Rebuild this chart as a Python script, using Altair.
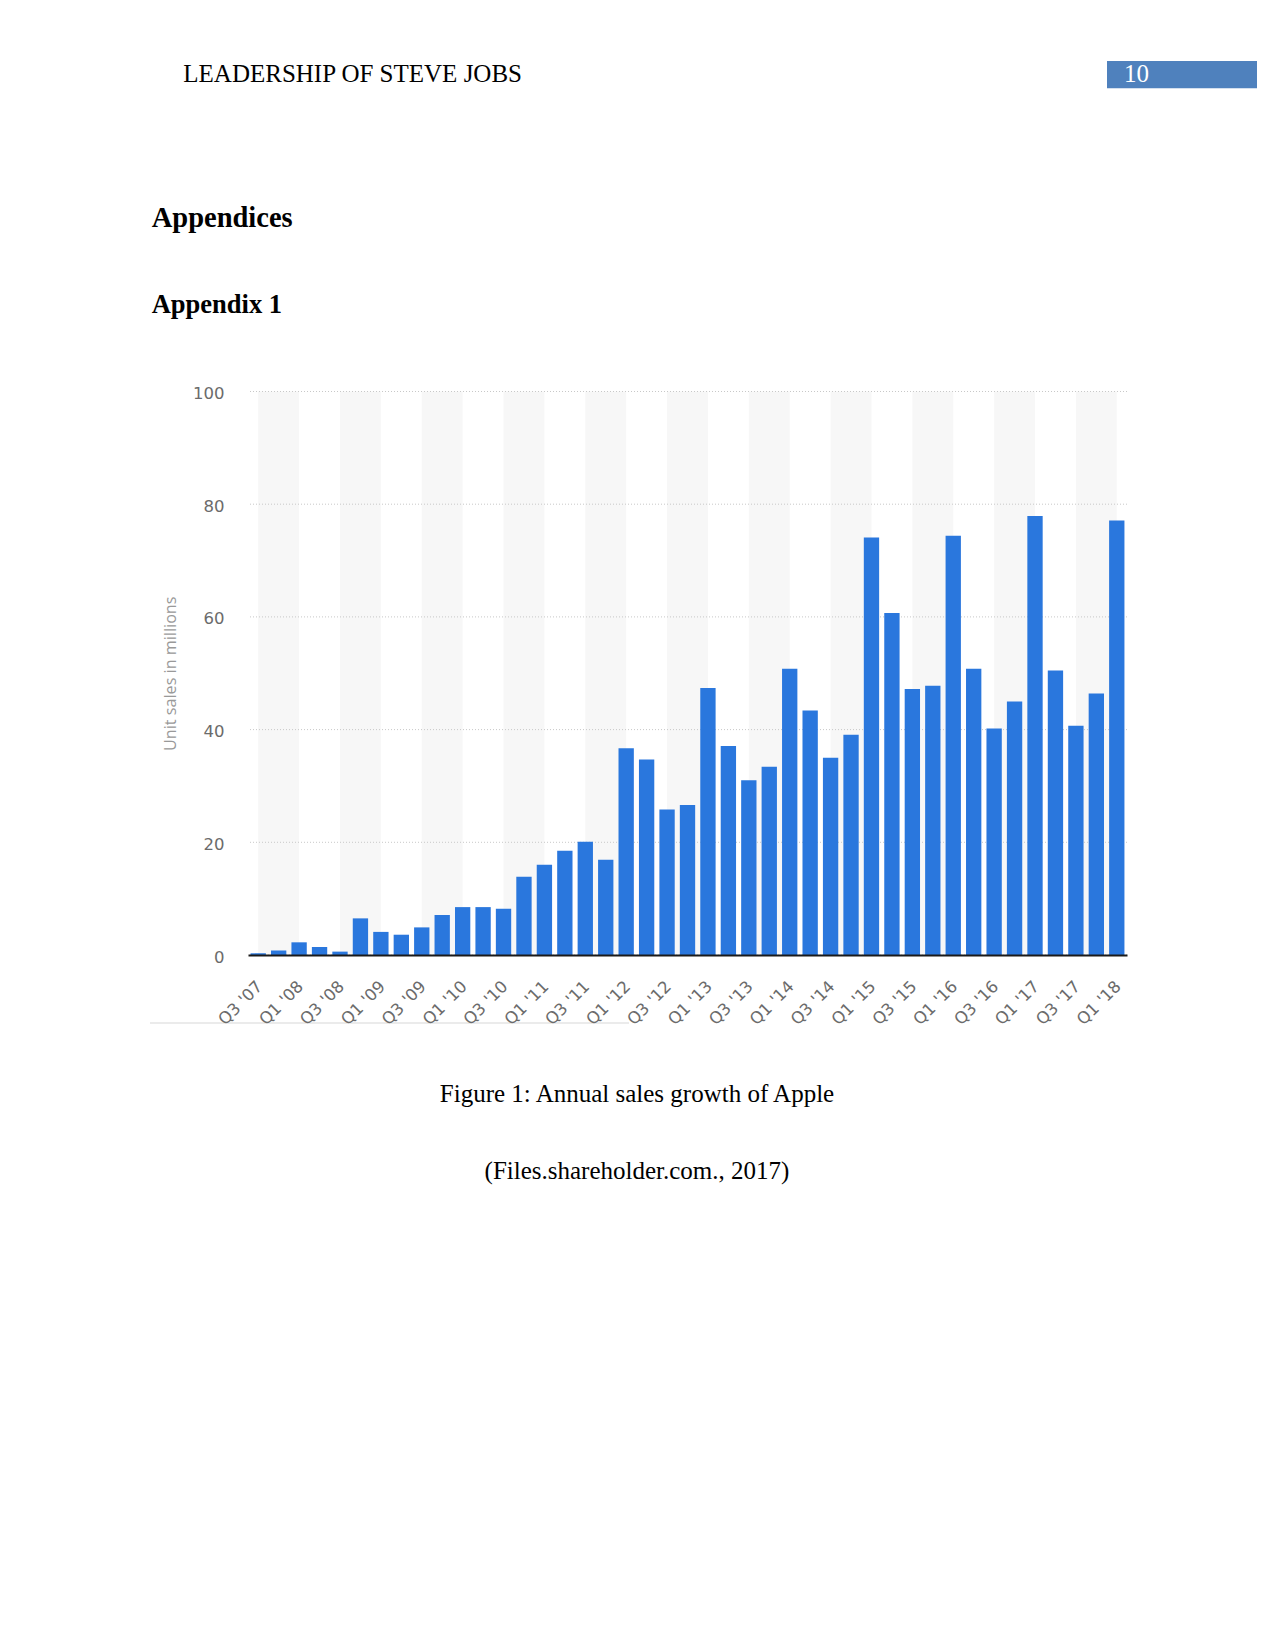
import altair as alt
import pandas as pd

# ---- data ----
quarters = [
    "Q3 '07", "Q4 '07",
    "Q1 '08", "Q2 '08", "Q3 '08", "Q4 '08",
    "Q1 '09", "Q2 '09", "Q3 '09", "Q4 '09",
    "Q1 '10", "Q2 '10", "Q3 '10", "Q4 '10",
    "Q1 '11", "Q2 '11", "Q3 '11", "Q4 '11",
    "Q1 '12", "Q2 '12", "Q3 '12", "Q4 '12",
    "Q1 '13", "Q2 '13", "Q3 '13", "Q4 '13",
    "Q1 '14", "Q2 '14", "Q3 '14", "Q4 '14",
    "Q1 '15", "Q2 '15", "Q3 '15", "Q4 '15",
    "Q1 '16", "Q2 '16", "Q3 '16", "Q4 '16",
    "Q1 '17", "Q2 '17", "Q3 '17", "Q4 '17",
    "Q1 '18",
]
units = [
    0.3, 0.8,
    2.25, 1.4, 0.6, 6.5,
    4.1, 3.6, 4.9, 7.1,
    8.5, 8.5, 8.2, 13.9,
    16.0, 18.5, 20.1, 16.9,
    36.7, 34.7, 25.8, 26.6,
    47.4, 37.1, 31.0, 33.4,
    50.8, 43.4, 35.0, 39.1,
    74.1, 60.7, 47.2, 47.8,
    74.4, 50.8, 40.2, 45.0,
    77.9, 50.5, 40.7, 46.4,
    77.1,
]
y_ticks = [0, 20, 40, 60, 80, 100]
x_labels = quarters[::2]
y_title = "Unit sales in millions"

header_text = "LEADERSHIP OF STEVE JOBS"
page_number = "10"
heading1 = "Appendices"
heading2 = "Appendix 1"
caption = "Figure 1: Annual sales growth of Apple"
source = "(Files.shareholder.com., 2017)"

# ---- tables ----
df = pd.DataFrame({"quarter": quarters, "units": units})
n = len(quarters)
# alternate background bands between every other labelled tick
stripe_rows = [{"s": k + 0.5, "e": k + 2.5} for k in range(0, n - 2, 4)]
stripes_df = pd.DataFrame(stripe_rows)
grid_df = pd.DataFrame({"v": y_ticks})

W, H = 879, 563.5
LABEL_FONT = "DejaVu Sans"
TITLE_FONT = "Open Sans"
SERIF = "Liberation Serif"

stripes = alt.Chart(stripes_df).mark_rect(color="#f7f7f7").encode(
    x=alt.X("s:Q", scale=alt.Scale(domain=[0, n], nice=False, zero=False), axis=None),
    x2="e:Q",
    y=alt.datum(0),
    y2=alt.datum(100),
)

grid = alt.Chart(grid_df).mark_rule(color="#c8c8c8", strokeDash=[1, 2], strokeWidth=1).encode(
    y=alt.Y("v:Q", scale=alt.Scale(domain=[0, 100], nice=False)),
)

bars = alt.Chart(df).mark_bar(color="#2a77dd").encode(
    x=alt.X(
        "quarter:N",
        sort=quarters,
        scale=alt.Scale(paddingInner=0.25, paddingOuter=0.125),
        axis=alt.Axis(
            values=x_labels,
            title=None,
            labelAngle=-45,
            labelAlign="right",
            labelBaseline="top",
            labelPadding=23,
            labelOffset=-4,
            labelFont=LABEL_FONT,
            labelFontSize=16.5,
            labelColor="#6b6b6b",
            ticks=False,
            tickSize=0,
            domainColor="#1a1a1a",
            domainWidth=2,
            grid=False,
            zindex=1,
        ),
    ),
    y=alt.Y(
        "units:Q",
        scale=alt.Scale(domain=[0, 100], nice=False),
        axis=alt.Axis(
            values=y_ticks,
            title=y_title,
            titleFont=TITLE_FONT,
            titleFontSize=16.2,
            titleFontWeight="normal",
            titleColor="#999999",
            titlePadding=14,
            labelFont=LABEL_FONT,
            labelFontSize=16.5,
            labelColor="#6b6b6b",
            labelPadding=24,
            labelOffset=2,
            ticks=False,
            tickSize=0,
            domain=False,
            grid=False,
        ),
    ),
)


def page_text(txt, x, y, size, weight="normal", align="left", color="black"):
    return alt.Chart(pd.DataFrame({"t": [txt]})).mark_text(
        align=align, baseline="alphabetic", font=SERIF, fontSize=size,
        fontWeight=weight, color=color,
    ).encode(x=alt.value(x), y=alt.value(y), text="t:N")


page_box = alt.Chart(pd.DataFrame({"a": [0]})).mark_rect(color="#4f81bd").encode(
    x=alt.value(859), x2=alt.value(1009), y=alt.value(-330.5), y2=alt.value(-303.2)
)
scroll_line = alt.Chart(pd.DataFrame({"a": [0]})).mark_rule(color="#e4e4e4", strokeWidth=1.5).encode(
    x=alt.value(-98), x2=alt.value(381), y=alt.value(631.5)
)

chart = alt.layer(
    stripes,
    grid,
    bars,
    scroll_line,
    page_box,
    page_text(header_text, -64.7, -309.5, 25),
    page_text(page_number, 876, -309.2, 25, color="white"),
    page_text(heading1, -96.3, -164.8, 28.5, weight="bold"),
    page_text(heading2, -96.3, -78.5, 26.5, weight="bold"),
    page_text(caption, 389, 710.2, 25, align="center"),
    page_text(source, 389, 787.5, 25, align="center"),
).resolve_scale(x="independent").properties(
    width=W,
    height=H,
    autosize=alt.AutoSizeParams(type="none"),
    padding={"left": 240, "top": 383.5, "right": 135, "bottom": 250},
    background="white",
).configure_view(stroke=None)

chart.save("out.html", embed_options={"renderer": "svg", "actions": False})
